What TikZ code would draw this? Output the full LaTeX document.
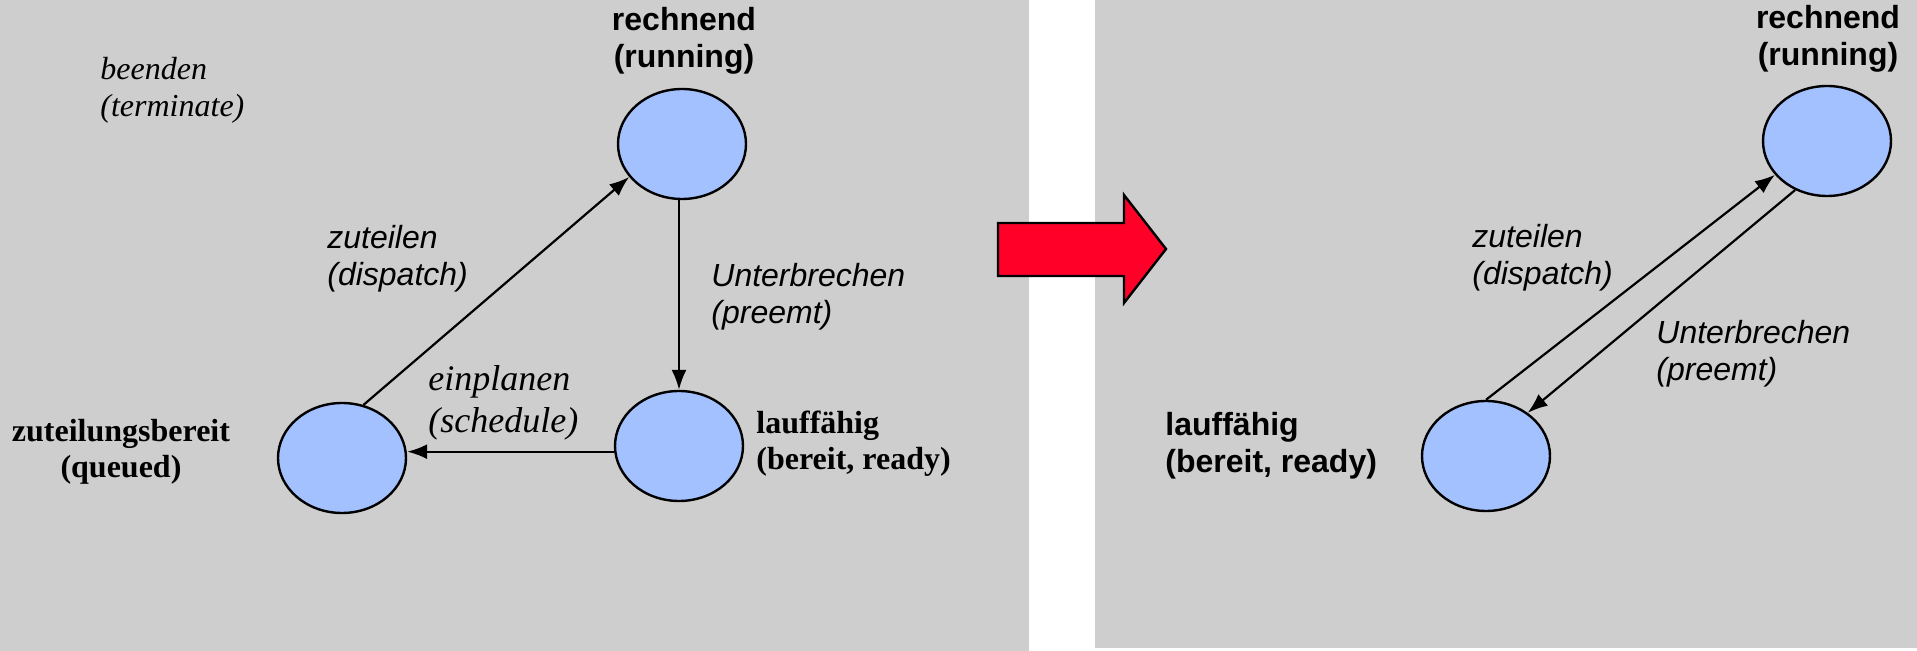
\documentclass[tikz,border=0pt]{standalone}
\usepackage{fontspec}
\setmainfont{Liberation Serif}
\setsansfont{Liberation Sans}
\usepackage{tikz}
\usetikzlibrary{arrows.meta,shapes.geometric}

\definecolor{panelgray}{RGB}{206,206,206}
\definecolor{stateblue}{RGB}{163,192,255}
\definecolor{bigred}{RGB}{255,0,41}

\begin{document}
\begin{tikzpicture}[x=0.5pt, y=-0.5pt,
    state/.style={ellipse, draw, line width=1.2pt, fill=stateblue, minimum width=64pt, minimum height=55pt, inner sep=0pt},
    trans/.style={-{Latex[length=10pt,width=7.5pt]}, line width=1.1pt},
    boldsans/.style={inner sep=0pt, align=center, font=\sffamily\bfseries\fontsize{16}{18.5}\selectfont},
    itsans/.style={inner sep=0pt, align=left, anchor=base west, font=\sffamily\itshape\fontsize{16}{18.75}\selectfont},
    boldserif/.style={inner sep=0pt, font=\bfseries\fontsize{16}{18}\selectfont},
    itserif/.style={inner sep=0pt, align=left, anchor=base west, font=\itshape\fontsize{16}{18.5}\selectfont}]
            % panels
            \useasboundingbox (0, 0) rectangle (1917, 651);
            \fill[white] (0, 0) rectangle (1917, 651);
            \fill[panelgray] (0, 0) rectangle (1029, 651);
            \fill[panelgray] (1095, 0) rectangle (1917, 648);
            \filldraw[fill=bigred, line width=1.2pt, line join=miter] (998, 223) -- (1124, 223) -- (1124, 195) -- (1166, 249) -- (1124, 303) -- (1124, 276) -- (998, 276) -- cycle;

            % before (base = last line)
            \node[state] (lrun) at (682, 144) {};
            \node[state] (lready) at (679, 446) {};
            \node[state] (lqueue) at (342, 458) {};
            \node[boldsans, anchor=base] (lrunlbl) at (684, 68) {rechnend\\(running)};
            \node[boldserif, align=left, anchor=base west] (lreadylbl) at (756, 470) {lauffähig\\(bereit, ready)};
            \node[boldserif, align=center, anchor=base] (lqueuelbl) at (121, 478) {zuteilungsbereit\\(queued)};
            \node[itserif] (endlbl) at (100, 117) {beenden\\(terminate)};
            \node[itserif, font=\itshape\fontsize{18}{21}\selectfont] (schedlbl) at (428, 433) {einplanen\\(schedule)};
            \node[itsans] (ldisplbl) at (327, 286) {zuteilen\\(dispatch)};
            \node[itsans] (lpreelbl) at (711, 324) {Unterbrechen\\(preemt)};
            \draw[trans] (lqueue.68) -- (lrun.212);
            \draw[trans] (lready.north |- lrun.south) -- (lready.north);
            \draw[trans] (lready.185) -- (lready.185 -| lqueue.east);

            % after
            \node[state] (rrun) at (1827, 141) {};
            \node[state] (rready) at (1486, 456) {};
            \node[boldsans, anchor=base] (rrunlbl) at (1828, 66) {rechnend\\(running)};
            \node[boldsans, align=left, anchor=base west] (rreadylbl) at (1165, 473) {lauffähig\\(bereit, ready)};
            \node[itsans] (rdisplbl) at (1472, 285) {zuteilen\\(dispatch)};
            \node[itsans] (rpreelbl) at (1656, 381) {Unterbrechen\\(preemt)};
            \draw[trans] (rready.north) -- (rrun.213);
            \draw[trans] (rrun.237) -- (rready.46);
\end{tikzpicture}
\end{document}
